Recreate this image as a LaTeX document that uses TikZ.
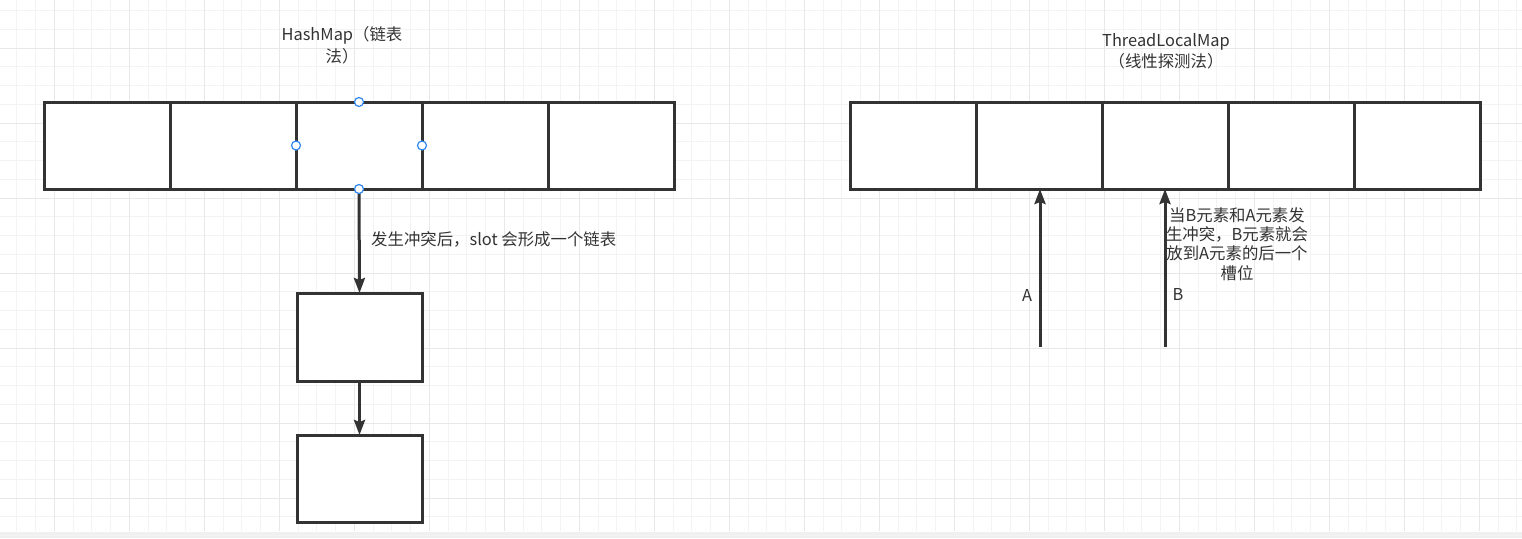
\documentclass[tikz,border=0pt]{standalone}
\usepackage{fontspec}
\setmainfont{Noto Sans CJK SC}
\usetikzlibrary{arrows.meta,calc}
\definecolor{ink}{HTML}{333333}
\definecolor{gridminor}{HTML}{F3F3F3}
\definecolor{gridmajor}{HTML}{E8E8E8}
\definecolor{band}{HTML}{F0F0F0}
\definecolor{handle}{HTML}{2F88F0}
\tikzset{
  cell/.style={draw=ink, line width=3pt, fill=white, minimum width=126pt, minimum height=87pt, inner sep=0pt, outer sep=0pt},
  arr/.style={draw=ink, line width=3pt, -{Stealth[length=15pt,width=11pt,inset=2pt]}},
  lbl/.style={text=ink, font=\fontsize{16.4}{20}\selectfont, inner sep=0pt, align=center},
  hdl/.style={circle, draw=handle, fill=white, line width=1.2pt, minimum size=9pt, inner sep=0pt}
}
\begin{document}
\begin{tikzpicture}[x=1pt,y=-1pt]
\useasboundingbox (0,0) rectangle (1522,538);
\fill[white] (0,0) rectangle (1522,532);
\fill[band] (0,532) rectangle (1522,538);
% grid
\foreach \i in {-2,...,78} {
  \pgfmathsetmacro{\gx}{54.3+18.75*\i}
  \draw[gridminor, line width=1pt] (\gx,0) -- (\gx,531);
}
\foreach \i in {-2,...,26} {
  \pgfmathsetmacro{\gy}{48+18.75*\i}
  \draw[gridminor, line width=1pt] (0,\gy) -- (1522,\gy);
}
\foreach \i in {0,...,19} {
  \pgfmathsetmacro{\gx}{54.3+75*\i}
  \draw[gridmajor, line width=1pt] (\gx,0) -- (\gx,531);
}
\foreach \i in {0,...,6} {
  \pgfmathsetmacro{\gy}{48+75*\i}
  \draw[gridmajor, line width=1pt] (0,\gy) -- (1522,\gy);
}
% left array
\node[cell] (L1) at (107,145.5) {};
\node[cell] (L2) at (233,145.5) {};
\node[cell] (L3) at (359,145.5) {};
\node[cell] (L4) at (485,145.5) {};
\node[cell] (L5) at (611,145.5) {};
% chain boxes
\node[cell, minimum width=125pt, minimum height=88pt] (D1) at (359.5,337) {};
\node[cell, minimum width=125pt, minimum height=87pt] (D2) at (359.5,478.5) {};
% right array
\node[cell] (R1) at (913,145.5) {};
\node[cell] (R2) at (1039,145.5) {};
\node[cell] (R3) at (1165,145.5) {};
\node[cell] (R4) at (1291,145.5) {};
\node[cell] (R5) at (1417,145.5) {};
% titles
\node[lbl, font=\fontsize{16.4}{22}\selectfont] (t1) at (342,45) {HashMap（链表\\法）};
\node[lbl, font=\fontsize{16.4}{21}\selectfont] (t2) at (1166,51.5) {ThreadLocalMap\\（线性探测法）};
% chain arrows
\draw[arr] (L3.south) -- (D1.north);
\draw[arr] (D1.south) -- (D2.north);
\node[lbl, anchor=west] (c1) at (371,239) {发生冲突后，slot 会形成一个链表};
% probing arrows
\coordinate (a0) at (1040,347);
\coordinate (b0) at (1165,347);
\draw[arr] (a0) -- (a0 |- R2.south);
\draw[arr] (b0) -- (b0 |- R3.south);
\node[lbl] (la) at (1027,295) {A};
\node[lbl] (lb) at (1178,294) {B};
\node[lbl, font=\fontsize{16.4}{19.3}\selectfont] (nb) at (1237,244) {当B元素和A元素发\\生冲突，B元素就会\\放到A元素的后一个\\槽位};
% selection handles
\node[hdl] at (L3.north) {};
\node[hdl] at (L3.west) {};
\node[hdl] at (L3.east) {};
\node[hdl] at (L3.south) {};
\end{tikzpicture}
\end{document}
